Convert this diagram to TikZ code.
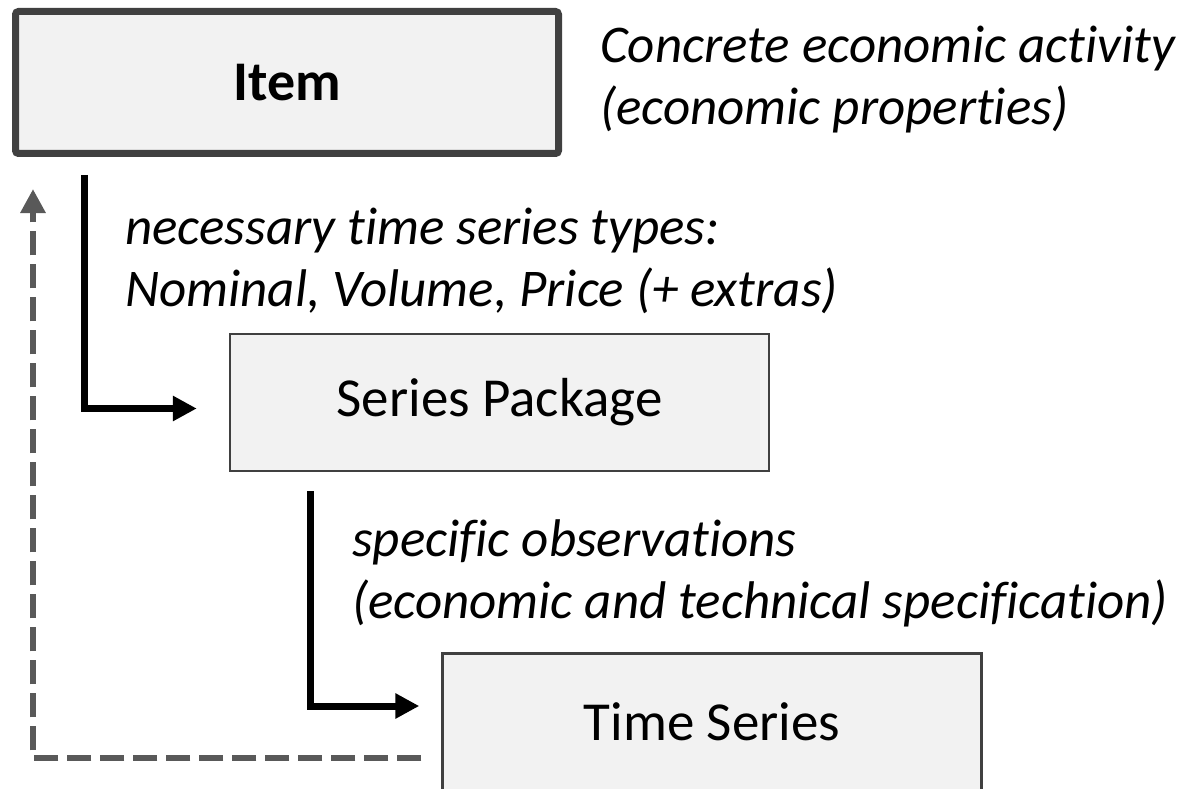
\documentclass[tikz,border=0pt]{standalone}
\usepackage{fontspec}
\setmainfont{Carlito}[Ligatures=NoCommon]
\usetikzlibrary{arrows.meta}
\definecolor{boxfill}{HTML}{F2F2F2}
\definecolor{boxline}{HTML}{404040}
\definecolor{backline}{HTML}{595959}

\begin{document}
\begin{tikzpicture}[x=1pt,y=-1pt,
  box/.style={draw=boxline,fill=boxfill,line width=2.5pt,minimum width=539pt,minimum height=137pt,font=\fontsize{55}{60}\selectfont},
  note/.style={anchor=north west,inner sep=0pt,align=left,font=\fontsize{53}{62}\selectfont\itshape},
  link/.style={line width=7pt,-{Triangle[length=24pt,width=24pt]}},
  back/.style={draw=backline,line width=6.5pt,dash pattern=on 24pt off 9pt,-{Triangle[length=24pt,width=24pt]}}]
  \useasboundingbox (0,0) rectangle (1184,789);
  % the three boxes
  \node[box,line width=7pt,rounded corners=3pt,minimum width=543pt,minimum height=142pt,font=\fontsize{56}{60}\selectfont\bfseries] (Item) at (287,82.5) {Item};
  \node[box] (Pkg) at (499.5,402.5) {Series Package};
  \node[box] (TS) at (712,722) {Time Series};
  % descriptions
  \node[note] (Desc) at (600,26) {Concrete economic activity\\(economic properties)};
  \node[note] (Types) at (125,208) {necessary time series types:\\Nominal, Volume, Price (+ extras)};
  \node[note] (Obs) at (352,519) {specific observations\\(economic and technical specification)};
  % links
  \draw[link] ([shift={(72,18)}]Item.south west) |- ([shift={(-32,6)}]Pkg.west);
  \draw[link] ([shift={(82,19)}]Pkg.south west) |- ([shift={(-22,-16)}]TS.west);
  \draw[back] ([shift={(-20,36)}]TS.west) -| ([shift={(21,32)}]Item.south west);
\end{tikzpicture}
\end{document}
